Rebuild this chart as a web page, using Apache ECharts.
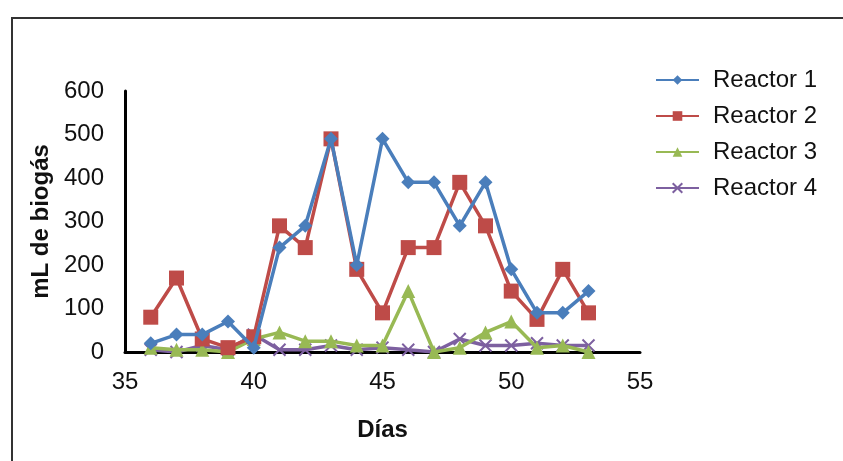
<!DOCTYPE html>
<html>
<head>
<meta charset="utf-8">
<script src="https://cdn.jsdelivr.net/npm/echarts@6/dist/echarts.min.js"></script>
<style>html,body{margin:0;padding:0;background:#fff}#c{width:843px;height:461px}</style>
</head>
<body>
<div id="c"></div>
<script>
const days = [36,37,38,39,40,41,42,43,44,45,46,47,48,49,50,51,52,53];
const reactor1 = [20,40,40,70,10,240,290,490,200,490,390,390,290,390,190,90,90,140];
const reactor2 = [80,170,30,10,35,290,240,490,190,90,240,240,390,290,140,75,190,90];
const reactor3 = [10,5,5,0,30,45,25,25,15,15,140,0,10,45,70,10,15,0];
const reactor4 = [5,0,15,5,40,5,5,15,5,10,5,0,30,15,15,20,15,15];
const seriesNames = ['Reactor 1','Reactor 2','Reactor 3','Reactor 4'];
const xTicks = [35,40,45,50,55];
const yTicks = [0,100,200,300,400,500,600];

const colors = ['#4A7EBB','#BE4B48','#98B954','#7D60A0'];
const symbols = ['diamond','rect','triangle','path://M0,0L10,10M10,0L0,10'];
const sizes = [14,15,14,12];
const dataSets = [reactor1,reactor2,reactor3,reactor4];
const FONT = 'Liberation Sans, Arial, sans-serif';

const chart = echarts.init(document.getElementById('c'));
chart.setOption({
  animation:false,
  color: colors,
  graphic:[{type:'rect',shape:{x:12,y:18,width:900,height:500},style:{fill:'none',stroke:'#333',lineWidth:2},silent:true}],
  grid:{left:125,right:203,top:91,bottom:109},
  legend:{
    orient:'vertical', left:650, top:63, itemWidth:43, itemHeight:12, itemGap:12,
    textStyle:{fontFamily:FONT,fontSize:24,lineHeight:24,color:'#111',padding:[0,0,0,9]},
    data: seriesNames
  },
  xAxis:{
    type:'value', min:xTicks[0], max:xTicks[xTicks.length-1], interval:5,
    name:'Días', nameLocation:'middle', nameGap:66,
    nameTextStyle:{fontFamily:FONT,fontSize:24,fontWeight:'bold',color:'#111'},
    axisLine:{lineStyle:{color:'#000',width:3}},
    axisTick:{show:false}, splitLine:{show:false},
    axisLabel:{margin:18,fontFamily:FONT,fontSize:24,color:'#111'}
  },
  yAxis:{
    type:'value', min:yTicks[0], max:yTicks[yTicks.length-1], interval:100,
    name:'mL de biogás', nameLocation:'middle', nameGap:68, nameRotate:90,
    nameTextStyle:{fontFamily:FONT,fontSize:24,fontWeight:'bold',color:'#111'},
    axisLine:{show:true,lineStyle:{color:'#000',width:3}},
    axisTick:{show:false}, splitLine:{show:false},
    axisLabel:{margin:21,fontFamily:FONT,fontSize:24,color:'#111'}
  },
  series: dataSets.map((d,i)=>({
    name: seriesNames[i], type:'line',
    data: days.map((x,j)=>[x,d[j]]),
    symbol: symbols[i], symbolSize: sizes[i], showAllSymbol:true,
    lineStyle:{width:3.5,color:colors[i]},
    itemStyle: i===3 ? {color:colors[i],borderColor:colors[i],borderWidth:2} : {color:colors[i]},
    z: 10-i
  }))
});
</script>
</body>
</html>
